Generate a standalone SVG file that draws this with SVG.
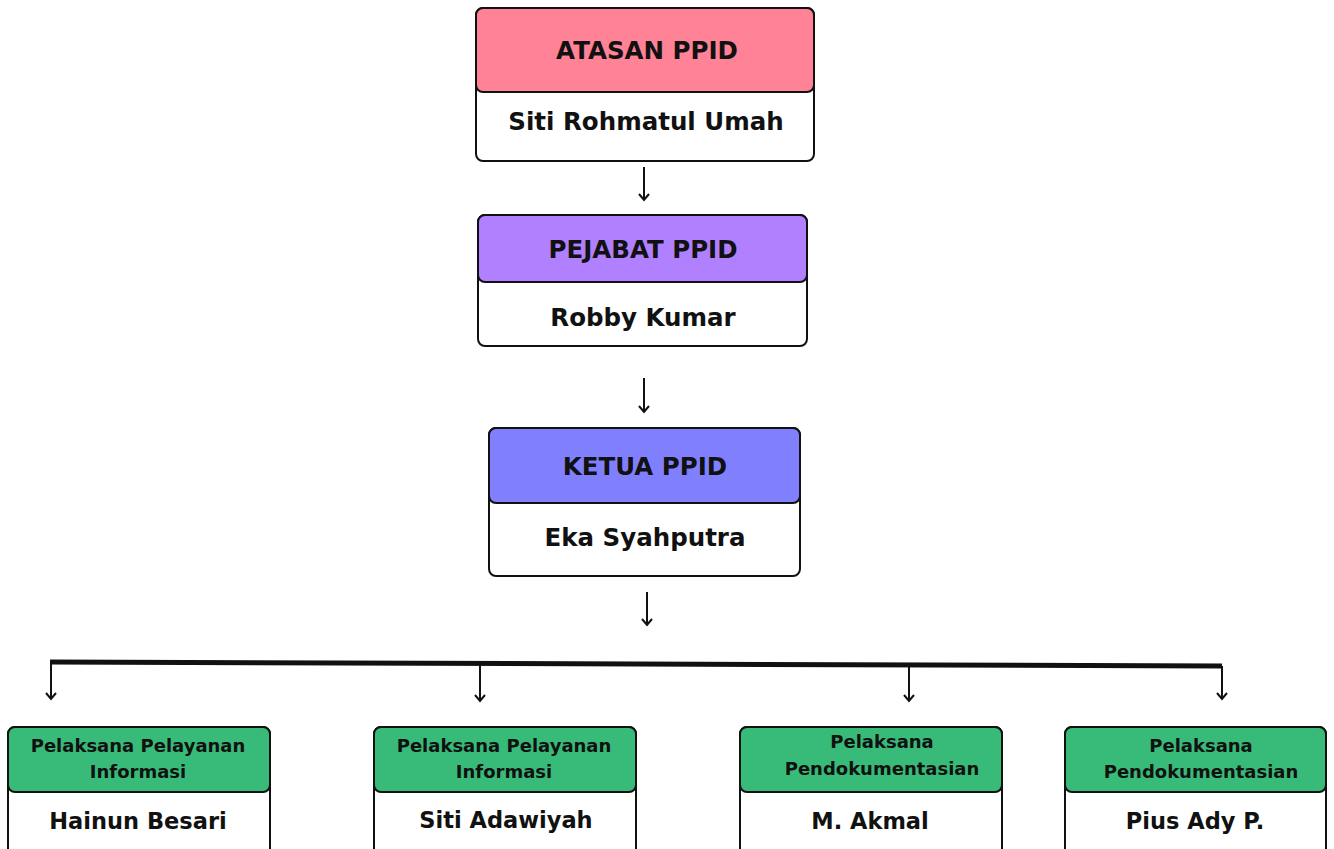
<svg xmlns="http://www.w3.org/2000/svg" width="1334" height="849" viewBox="0 0 1334 849">
<style>
.box{fill:#fff;stroke:#111;stroke-width:2}
.hd{stroke:#111;stroke-width:2}
.t1{font-family:"DejaVu Sans",sans-serif;font-weight:700;font-size:24.5px;fill:#111;text-anchor:middle}
.t2{font-family:"DejaVu Sans",sans-serif;font-weight:700;font-size:18px;fill:#111;text-anchor:middle}
.t3{font-family:"DejaVu Sans",sans-serif;font-weight:700;font-size:22.5px;fill:#111;text-anchor:middle}
.c{fill:none;stroke:#111;stroke-width:2}
.bar{fill:none;stroke:#111;stroke-width:5}
</style>
<rect width="1334" height="849" fill="#fff"/>
<g id="connectors">
<line class="c" x1="644" y1="167" x2="644" y2="200"/>
<line class="c" x1="644" y1="378" x2="644" y2="412"/>
<line class="c" x1="647" y1="592" x2="647" y2="625"/>
<path class="bar" d="M50,662 L1222,666"/>
<line class="c" x1="51" y1="662" x2="51" y2="699"/>
<line class="c" x1="480" y1="664" x2="480" y2="701"/>
<line class="c" x1="909" y1="666" x2="909" y2="701"/>
<line class="c" x1="1222" y1="666" x2="1222" y2="699"/>
<g fill="none" stroke="#111" stroke-width="2">
<path d="M639,194 L644,200 L649,194"/>
<path d="M639,406 L644,412 L649,406"/>
<path d="M642,619 L647,625 L652,619"/>
<path d="M46,693 L51,699 L56,693"/>
<path d="M475,695 L480,701 L485,695"/>
<path d="M904,695 L909,701 L914,695"/>
<path d="M1217,693 L1222,699 L1227,693"/>
</g>
</g>
<g id="atasan">
<rect class="box" x="476" y="8" width="338" height="153" rx="7"/>
<rect class="hd" x="476" y="8" width="338" height="84" rx="7" fill="#ff8296"/>
<text class="t1" x="647" y="59">ATASAN PPID</text>
<text class="t1" x="646" y="130">Siti Rohmatul Umah</text>
</g>
<g id="pejabat">
<rect class="box" x="478" y="215" width="329" height="131" rx="7"/>
<rect class="hd" x="478" y="215" width="329" height="67" rx="7" fill="#b180ff"/>
<text class="t1" x="643" y="258">PEJABAT PPID</text>
<text class="t1" x="643" y="326">Robby Kumar</text>
</g>
<g id="ketua">
<rect class="box" x="489" y="428" width="311" height="148" rx="7"/>
<rect class="hd" x="489" y="428" width="311" height="75" rx="7" fill="#8080ff"/>
<text class="t1" x="645" y="475">KETUA PPID</text>
<text class="t1" x="645" y="546">Eka Syahputra</text>
</g>
<g id="pelayanan1">
<rect class="box" x="8" y="727" width="262" height="135" rx="7"/>
<rect class="hd" x="8" y="727" width="262" height="65" rx="7" fill="#38bb78"/>
<text class="t2" x="138" y="752">Pelaksana Pelayanan</text>
<text class="t2" x="138" y="778">Informasi</text>
<text class="t3" x="138" y="829">Hainun Besari</text>
</g>
<g id="pelayanan2">
<rect class="box" x="374" y="727" width="262" height="135" rx="7"/>
<rect class="hd" x="374" y="727" width="262" height="65" rx="7" fill="#38bb78"/>
<text class="t2" x="504" y="752">Pelaksana Pelayanan</text>
<text class="t2" x="504" y="778">Informasi</text>
<text class="t3" x="506" y="828">Siti Adawiyah</text>
</g>
<g id="dokumentasi1">
<rect class="box" x="740" y="727" width="262" height="135" rx="7"/>
<rect class="hd" x="740" y="727" width="262" height="65" rx="7" fill="#38bb78"/>
<text class="t2" x="882" y="748">Pelaksana</text>
<text class="t2" x="882" y="775">Pendokumentasian</text>
<text class="t3" x="870" y="829">M. Akmal</text>
</g>
<g id="dokumentasi2">
<rect class="box" x="1065" y="727" width="261" height="135" rx="7"/>
<rect class="hd" x="1065" y="727" width="261" height="65" rx="7" fill="#38bb78"/>
<text class="t2" x="1201" y="752">Pelaksana</text>
<text class="t2" x="1201" y="778">Pendokumentasian</text>
<text class="t3" x="1195" y="829">Pius Ady P.</text>
</g>
</svg>
